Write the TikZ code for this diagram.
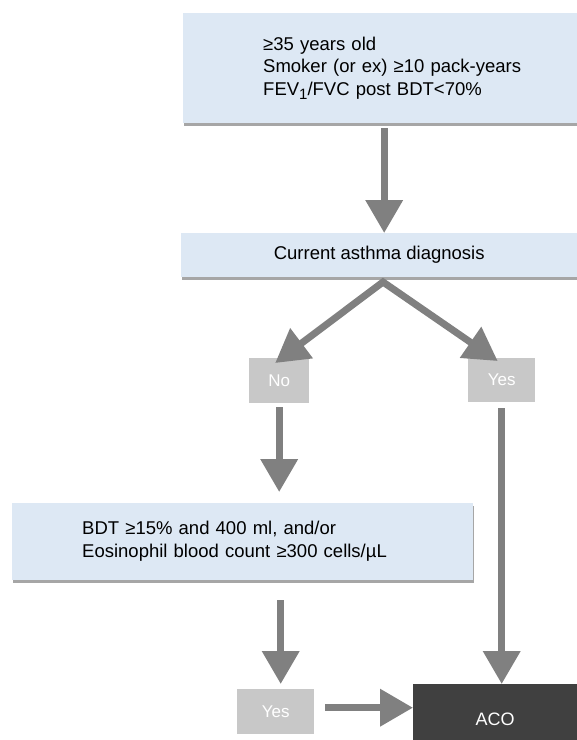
\documentclass[tikz,border=0pt]{standalone}
\usepackage{fontspec}
\setmainfont{Liberation Sans}
\usepackage{tikz}
\usetikzlibrary{arrows.meta, shadows, positioning}
\definecolor{boxblue}{RGB}{221,232,244}
\definecolor{ansgray}{RGB}{200,200,200}
\definecolor{arrowgray}{RGB}{128,128,128}
\definecolor{acogray}{RGB}{64,64,64}
\tikzstyle{critbox}=[fill=boxblue, inner sep=0pt, anchor=north west, font=\fontsize{18.5}{22.5}\selectfont, drop shadow={shadow xshift=1pt, shadow yshift=-2.5pt, fill=black, opacity=.35}]
\tikzstyle{ansbox}=[fill=ansgray, text=white, inner sep=0pt, anchor=north west, font=\fontsize{17}{20}\selectfont]
\tikzstyle{acobox}=[fill=acogray, text=white, inner sep=0pt, anchor=north west, font=\fontsize{18}{21}\selectfont]
\tikzstyle{bigarrow}=[draw=arrowgray, line width=7pt, ->]
\tikzstyle{bigboth}=[draw=arrowgray, line width=7pt, <->, line join=miter]

\begin{document}
\begin{tikzpicture}[x=1pt,y=-1pt,>={Triangle[width=36pt,length=33pt]}]
  \path[use as bounding box, clip] (0,0) rectangle (577,740);
  % boxes
  \node [critbox, minimum width=394pt, minimum height=110pt, text width=394pt, align=left] (risk) at (183,13)
    {\hspace*{80pt}\begin{tabular}{@{}l@{}}≥35 years old\\ Smoker (or ex) ≥10 pack-years\\ FEV\raisebox{-4pt}{\fontsize{15}{15}\selectfont 1}/FVC post BDT<70\%\end{tabular}};
  \node [critbox, minimum width=396pt, minimum height=44pt] (asthma) at (181,233) {Current asthma diagnosis};
  \node [ansbox, minimum width=60pt, minimum height=45pt] (no) at (249,358) {No};
  \node [ansbox, minimum width=67pt, minimum height=44pt] (yesa) at (468,358) {Yes};
  \node [critbox, minimum width=461pt, minimum height=77pt, text width=461pt, align=left] (bdt) at (12,503)
    {\hspace*{70pt}\begin{tabular}{@{}l@{}}BDT ≥15\% and 400 ml, and/or\\ Eosinophil blood count ≥300 cells/µL\end{tabular}};
  \node [ansbox, minimum width=77pt, minimum height=45pt] (yesb) at (237,689) {Yes};
  \node [acobox, minimum width=164pt, minimum height=70pt] (aco) at (413,684) {ACO};
  % arrows
  \coordinate (split) at (383,282);
  \draw [bigarrow, shorten <=5pt] ([xshift=4pt]risk.south) -- ([xshift=4pt]risk.south |- asthma.north);
  \draw [bigboth] ([shift={(-4pt,-5pt)}]no.north) -- (split) -- ([shift={(-4pt,-3pt)}]yesa.north);
  \draw [bigarrow, shorten <=4pt, shorten >=11pt] (no.south) -- (no.south |- bdt.north);
  \draw [bigarrow, shorten <=20pt, shorten >=5pt] ([xshift=5pt]yesb.north |- bdt.south) -- ([xshift=5pt]yesb.north);
  \draw [bigarrow, shorten <=6pt] (yesa.south) -- (yesa.south |- aco.north);
  \draw [bigarrow, shorten <=11pt] ([yshift=4pt]yesb.east) -- ([yshift=4pt]yesb.east -| aco.west);
\end{tikzpicture}
\end{document}
